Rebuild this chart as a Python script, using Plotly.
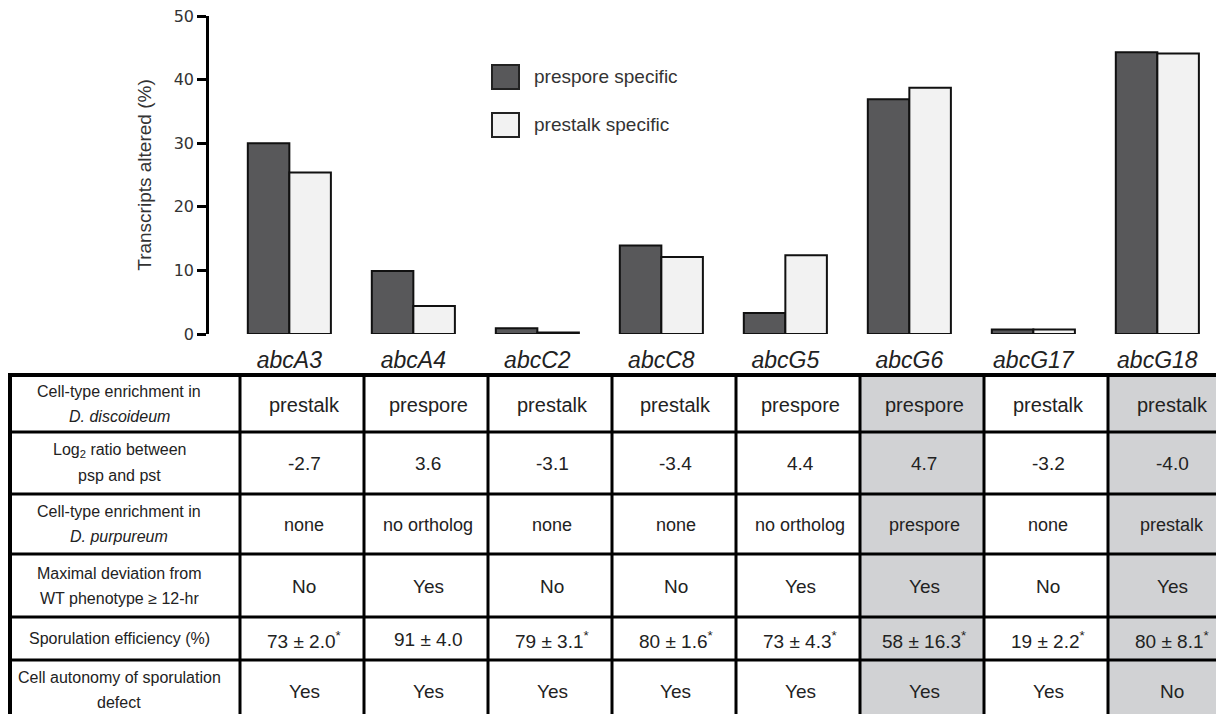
import plotly.graph_objects as go

# ---------------- data ----------------
genes = ["abcA3", "abcA4", "abcC2", "abcC8", "abcG5", "abcG6", "abcG17", "abcG18"]
prespore_pct = [30.0, 9.9, 0.9, 13.9, 3.3, 36.9, 0.7, 44.3]
prestalk_pct = [25.4, 4.4, 0.25, 12.1, 12.4, 38.7, 0.7, 44.1]
y_ticks = [0, 10, 20, 30, 40, 50]

row_labels = [
    ["Cell-type enrichment in", "<i>D. discoideum</i>"],
    ["Log<sub>2</sub> ratio between", "psp and pst"],
    ["Cell-type enrichment in", "<i>D. purpureum</i>"],
    ["Maximal deviation from", "WT phenotype ≥ 12-hr"],
    ["Sporulation efficiency (%)"],
    ["Cell autonomy of sporulation", "defect"],
]
enrich_discoideum = ["prestalk", "prespore", "prestalk", "prestalk", "prespore", "prespore", "prestalk", "prestalk"]
log2_ratio = [-2.7, 3.6, -3.1, -3.4, 4.4, 4.7, -3.2, -4.0]
enrich_purpureum = ["none", "no ortholog", "none", "none", "no ortholog", "prespore", "none", "prestalk"]
max_deviation = ["No", "Yes", "No", "No", "Yes", "Yes", "No", "Yes"]
spor_mean = [73, 91, 79, 80, 73, 58, 19, 80]
spor_sd = [2.0, 4.0, 3.1, 1.6, 4.3, 16.3, 2.2, 8.1]
spor_significant = [True, False, True, True, True, True, True, True]
cell_autonomy = ["Yes", "Yes", "Yes", "Yes", "Yes", "Yes", "Yes", "No"]
highlighted = ["abcG6", "abcG18"]

# ---------------- layout constants (pixels of the reference picture) ----------------
W, H = 1224, 714
OX, OY = 8, 8            # page body margin offset
PLOT_L, PLOT_T, PLOT_B = 209, 16, 334
GROUP_W = 124
X0 = -0.648
X1 = X0 + (W + OX - PLOT_L) / GROUP_W

TABLE_L, LABEL_R, COL_W = 10, 240, 124
ROW_EDGES = [375, 432, 494, 554, 617, 660, 722]
ROW_FONT = [20, 19, 18, 19, 19, 19]
LABEL_FONT = 16
LABEL_X = 119
LINE_GAP = 25
SANS = "Liberation Sans, Arial, sans-serif"
DARK = "#58585a"
LIGHT = "#f2f2f2"
GRAY = "#d1d2d4"
TXT = "#222222"


def px(x):
    return (x - OX) / W


def py(y):
    return 1 - (y - OY) / H


fig = go.Figure()
fig.add_trace(go.Bar(name="prespore specific", x=genes, y=prespore_pct,
                     marker=dict(color=DARK, line=dict(color="#111111", width=2)),
                     showlegend=False))
fig.add_trace(go.Bar(name="prestalk specific", x=genes, y=prestalk_pct,
                     marker=dict(color=LIGHT, line=dict(color="#111111", width=2)),
                     showlegend=False))

shapes = []
annotations = []

# legend (drawn manually to get large swatches)
legend_items = [("prespore specific", DARK, 77), ("prestalk specific", LIGHT, 125)]
for name, color, yc in legend_items:
    shapes.append(dict(type="rect", xref="paper", yref="paper",
                       x0=px(492), x1=px(519), y0=py(yc - 12), y1=py(yc + 12),
                       fillcolor=color, line=dict(color="#222222", width=2)))
    annotations.append(dict(xref="paper", yref="paper", x=px(532), y=py(yc),
                            xanchor="left", yanchor="middle", showarrow=False,
                            text=name, font=dict(family=SANS, size=19, color="#333333")))

# ---------------- table ----------------
n_rows = len(row_labels)
col_edges = [LABEL_R + i * COL_W for i in range(len(genes) + 1)]

for g in highlighted:
    i = genes.index(g)
    shapes.append(dict(type="rect", xref="paper", yref="paper", layer="below",
                       x0=px(col_edges[i]), x1=px(min(col_edges[i + 1], W + OX)),
                       y0=py(ROW_EDGES[0]), y1=py(ROW_EDGES[-1]),
                       fillcolor=GRAY, line=dict(width=0)))

for k, yy in enumerate(ROW_EDGES):
    shapes.append(dict(type="line", xref="paper", yref="paper",
                       x0=px(TABLE_L - 2), x1=px(W + OX + 10), y0=py(yy), y1=py(yy),
                       line=dict(color="#000000", width=4 if k == 0 else 3)))
for k, xx in enumerate([TABLE_L] + col_edges):
    shapes.append(dict(type="line", xref="paper", yref="paper",
                       x0=px(xx), x1=px(xx), y0=py(ROW_EDGES[0]), y1=py(ROW_EDGES[-1]),
                       line=dict(color="#000000", width=4 if k == 0 else 3)))

spor_text = [f"{m} ± {s:.1f}" + ("<sup>*</sup>" if sig else "")
             for m, s, sig in zip(spor_mean, spor_sd, spor_significant)]
table_rows = [
    enrich_discoideum,
    [f"{v:.1f}" for v in log2_ratio],
    enrich_purpureum,
    max_deviation,
    spor_text,
    cell_autonomy,
]

for r in range(n_rows):
    yc = (ROW_EDGES[r] + ROW_EDGES[r + 1]) / 2
    if r == n_rows - 1:
        yc = 690
    lines = row_labels[r]
    for j, line in enumerate(lines):
        ly = yc + (j - (len(lines) - 1) / 2) * LINE_GAP
        annotations.append(dict(xref="paper", yref="paper", x=px(LABEL_X), y=py(ly),
                                xanchor="center", yanchor="middle", showarrow=False,
                                text=line,
                                font=dict(family=SANS, size=LABEL_FONT, color=TXT)))
    for c in range(len(genes)):
        xc = (col_edges[c] + col_edges[c + 1]) / 2 + 2
        annotations.append(dict(xref="paper", yref="paper", x=px(xc), y=py(yc + 1),
                                xanchor="center", yanchor="middle", showarrow=False,
                                text=table_rows[r][c],
                                font=dict(family=SANS, size=ROW_FONT[r], color=TXT)))

fig.update_layout(
    width=W, height=H,
    margin=dict(l=0, r=0, t=0, b=0, pad=0),
    paper_bgcolor="white", plot_bgcolor="white",
    barmode="group", bargap=0.33, bargroupgap=0,
    shapes=shapes, annotations=annotations,
    xaxis=dict(domain=[px(PLOT_L), 1], range=[X0, X1], type="category",
               automargin=False,
               showline=False, showgrid=False, zeroline=False, ticks="",
               tickfont=dict(family=SANS, size=23, color=TXT),
               ticklabelstandoff=10,
               tickvals=genes, ticktext=[f"<i>{g}</i>" for g in genes]),
    yaxis=dict(domain=[py(PLOT_B), py(PLOT_T)], range=[0, 50],
               automargin=False, ticklabeloverflow="allow",
               tickvals=y_ticks, showgrid=False, zeroline=False,
               showline=True, linecolor="#000000", linewidth=2.5,
               ticks="outside", ticklen=9, tickwidth=2.5, tickcolor="#000000",
               tickfont=dict(family="DejaVu Sans, sans-serif", size=16, color="#333333"),
               title=dict(text="Transcripts altered (%)", standoff=18,
                          font=dict(family=SANS, size=19, color="#333333"))),
)

fig.write_html("out.html")
